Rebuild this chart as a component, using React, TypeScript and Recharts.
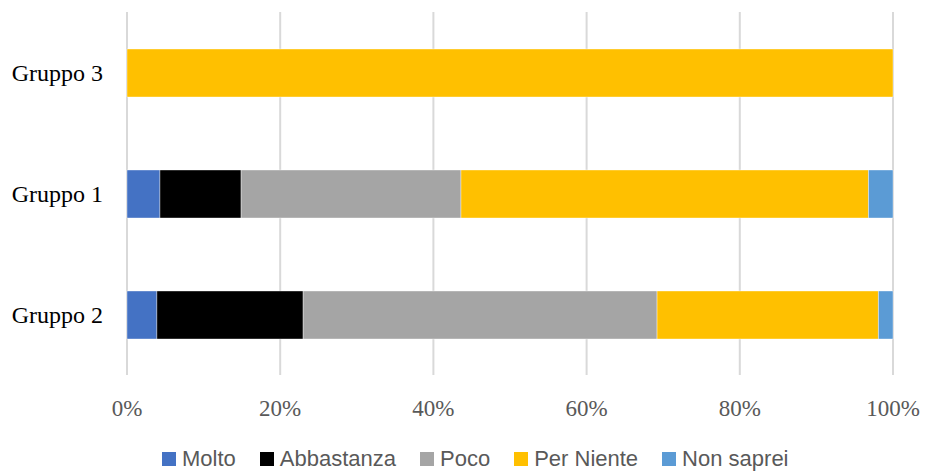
import * as React from 'react';
import { Bar, BarChart, CartesianGrid, Legend, XAxis, YAxis } from 'recharts';

const categories = ['Gruppo 3', 'Gruppo 1', 'Gruppo 2'];
const molto = [0, 4.3, 3.9];
const abbastanza = [0, 10.6, 19.1];
const poco = [0, 28.7, 46.2];
const perNiente = [100, 53.2, 28.9];
const nonSaprei = [0, 3.2, 1.9];
const xTicks = [0, 20, 40, 60, 80, 100];

const series = [
    { key: 'molto', name: 'Molto', color: '#4472C4' },
    { key: 'abbastanza', name: 'Abbastanza', color: '#000000' },
    { key: 'poco', name: 'Poco', color: '#A5A5A5' },
    { key: 'perNiente', name: 'Per Niente', color: '#FFC000' },
    { key: 'nonSaprei', name: 'Non saprei', color: '#5B9BD5' },
];

const data = categories.map((name, i) => ({
    name,
    molto: molto[i],
    abbastanza: abbastanza[i],
    poco: poco[i],
    perNiente: perNiente[i],
    nonSaprei: nonSaprei[i],
}));

const renderLegend = () => (
    <div style={{ display: 'flex', height: 30, alignItems: 'center', paddingLeft: 162, paddingTop: 3, boxSizing: 'border-box' }}>
        {series.map(s => (
            <div key={s.key} style={{ display: 'flex', alignItems: 'center', marginRight: 24 }}>
                <span style={{ width: 14, height: 14, background: s.color, display: 'inline-block', marginRight: 6 }} />
                <span style={{ fontFamily: '"Liberation Sans Narrow", sans-serif', fontSize: 22, color: '#595959' }}>
                    {s.name}
                </span>
            </div>
        ))}
    </div>
);

export default function App() {
    return (
        <div style={{ position: 'absolute', left: 0, top: 0 }}>
            <BarChart
                width={925}
                height={472}
                data={data}
                layout="vertical"
                margin={{ top: 12, right: 32, left: 0, bottom: 0 }}
            >
                <CartesianGrid horizontal={false} stroke="#d9d9d9" strokeWidth={2} />
                <XAxis
                    type="number"
                    domain={[0, 100]}
                    ticks={xTicks}
                    tickFormatter={(v: number) => `${v}%`}
                    axisLine={false}
                    tickLine={false}
                    tickSize={0}
                    tickMargin={25}
                    height={67}
                    tick={{ fill: '#595959', fontSize: 23, fontFamily: '"Liberation Serif", serif' }}
                />
                <YAxis
                    type="category"
                    dataKey="name"
                    width={127}
                    axisLine={false}
                    tickLine={false}
                    tickSize={0}
                    tickMargin={24}
                    tick={{ fill: '#000000', fontSize: 24, fontFamily: '"Liberation Serif", serif' }}
                />
                <Legend verticalAlign="bottom" content={renderLegend} />
                {series.map(s => (
                    <Bar
                        key={s.key}
                        dataKey={s.key}
                        name={s.name}
                        stackId="a"
                        fill={s.color}
                        barSize={48}
                        stroke="#ffffff"
                        strokeOpacity={0.5}
                        strokeWidth={0.75}
                        isAnimationActive={false}
                    />
                ))}
            </BarChart>
        </div>
    );
}
